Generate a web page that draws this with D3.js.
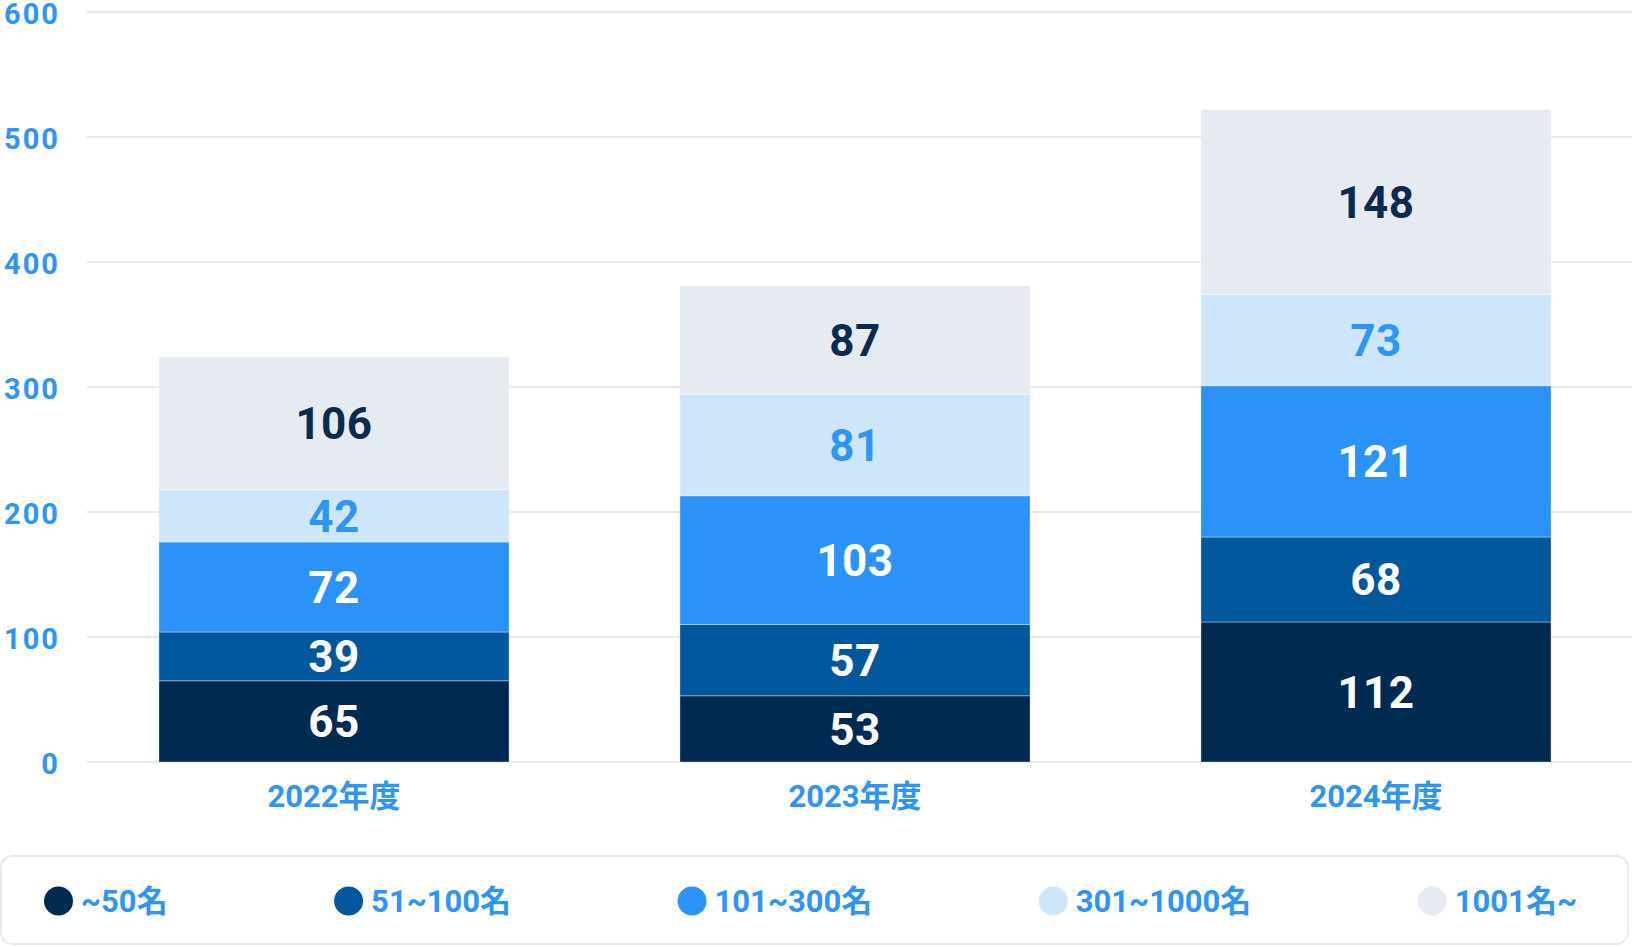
<!DOCTYPE html>
<html>
<head>
<meta charset="utf-8">
<script src="https://cdn.jsdelivr.net/npm/d3@7"></script>
<style>
  html, body { margin: 0; padding: 0; background: #fff; }
  svg { display: block; font-family: Roboto, "Noto Sans CJK JP", sans-serif; font-weight: 700; }
</style>
</head>
<body>
<div id="chart"></div>
<script>
// data
const years = ["2022年度", "2023年度", "2024年度"];
const groups = ["~50名", "51~100名", "101~300名", "301~1000名", "1001名~"];
const top50 = [65, 53, 112];
const r51to100 = [39, 57, 68];
const r101to300 = [72, 103, 121];
const r301to1000 = [42, 81, 73];
const r1001plus = [106, 87, 148];
const yTicks = [0, 100, 200, 300, 400, 500, 600];

const colors = ["#002a52", "#01579b", "#2b93f7", "#cde6fc", "#e6eaf1"];
const labelColors = ["#ffffff", "#ffffff", "#ffffff", "#2e94f5", "#0b2b4e"];

const width = 1632, height = 947;

const svg = d3.select("#chart")
    .append("svg")
    .attr("width", width)
    .attr("height", height);

const x = d3.scaleBand()
    .domain(years)
    .range([73.5, 1636.5])
    .paddingInner(0.328)
    .paddingOuter(0.164);

const y = d3.scaleLinear()
    .domain([0, 600])
    .range([762, 12]);

// grid lines + y labels
const grid = svg.append("g");
grid.selectAll("line")
    .data(yTicks)
    .enter()
    .append("line")
    .attr("x1", 87)
    .attr("x2", width)
    .attr("y1", d => y(d))
    .attr("y2", d => y(d))
    .attr("stroke", "#e7e9ee")
    .attr("stroke-width", 2);

grid.selectAll("text")
    .data(yTicks)
    .enter()
    .append("text")
    .attr("x", 60)
    .attr("y", d => y(d) + 1.5)
    .attr("dy", "0.36em")
    .attr("text-anchor", "end")
    .attr("font-size", 29)
    .attr("letter-spacing", 2)
    .attr("fill", "#2e94f5")
    .text(d => d);

// stacked bars
const rows = years.map((yr, i) => ({
    year: yr,
    values: [top50[i], r51to100[i], r101to300[i], r301to1000[i], r1001plus[i]]
}));

const stack = d3.stack()
    .keys(d3.range(groups.length))
    .value((d, k) => d.values[k]);

const series = stack(rows);

const layers = svg.append("g")
    .selectAll("g")
    .data(series)
    .enter()
    .append("g")
    .attr("fill", (d, i) => colors[i]);

layers.selectAll("rect")
    .data(d => d)
    .enter()
    .append("rect")
    .attr("x", d => x(d.data.year))
    .attr("y", d => y(d[1]))
    .attr("width", x.bandwidth())
    .attr("height", d => y(d[0]) - y(d[1]))
    .attr("stroke", "rgba(255,255,255,0.35)")
    .attr("stroke-width", 1);

layers.selectAll("text")
    .data(d => d)
    .enter()
    .append("text")
    .attr("x", d => x(d.data.year) + x.bandwidth() / 2)
    .attr("y", d => (y(d[0]) + y(d[1])) / 2)
    .attr("dy", "0.36em")
    .attr("text-anchor", "middle")
    .attr("font-size", 44)
    .attr("letter-spacing", 0.5)
    .attr("fill", function () { return labelColors[d3.select(this.parentNode).datum().key]; })
    .text(d => d[1] - d[0]);

// x labels
svg.append("g")
    .selectAll("text")
    .data(years)
    .enter()
    .append("text")
    .attr("x", d => x(d) + x.bandwidth() / 2)
    .attr("y", 796)
    .attr("dy", "0.36em")
    .attr("text-anchor", "middle")
    .attr("font-size", 31)
    .attr("fill", "#2e94f5")
    .text(d => d);

// legend
const legend = svg.append("g");
legend.append("rect")
    .attr("x", 1)
    .attr("y", 856)
    .attr("width", 1627)
    .attr("height", 88)
    .attr("rx", 12)
    .attr("fill", "#fff")
    .attr("stroke", "#e7e9ee")
    .attr("stroke-width", 2);

const items = legend.selectAll("g.item")
    .data(groups)
    .enter()
    .append("g")
    .attr("class", "item");

items.append("circle")
    .attr("cx", 14.5)
    .attr("cy", 901)
    .attr("r", 14.5)
    .attr("fill", (d, i) => colors[i]);

items.append("text")
    .attr("x", 37)
    .attr("y", 901)
    .attr("dy", "0.36em")
    .attr("font-size", 31)
    .attr("fill", "#2e94f5")
    .text(d => d);

// spread items between left and right edges (space-between)
const itemWidths = [];
items.each(function () { itemWidths.push(this.getBBox().width); });
const left = 44, right = 1577;
const gap = (right - left - d3.sum(itemWidths)) / (groups.length - 1);
let pos = left;
items.attr("transform", (d, i) => {
    const t = `translate(${pos},0)`;
    pos += itemWidths[i] + gap;
    return t;
});
</script>
</body>
</html>
